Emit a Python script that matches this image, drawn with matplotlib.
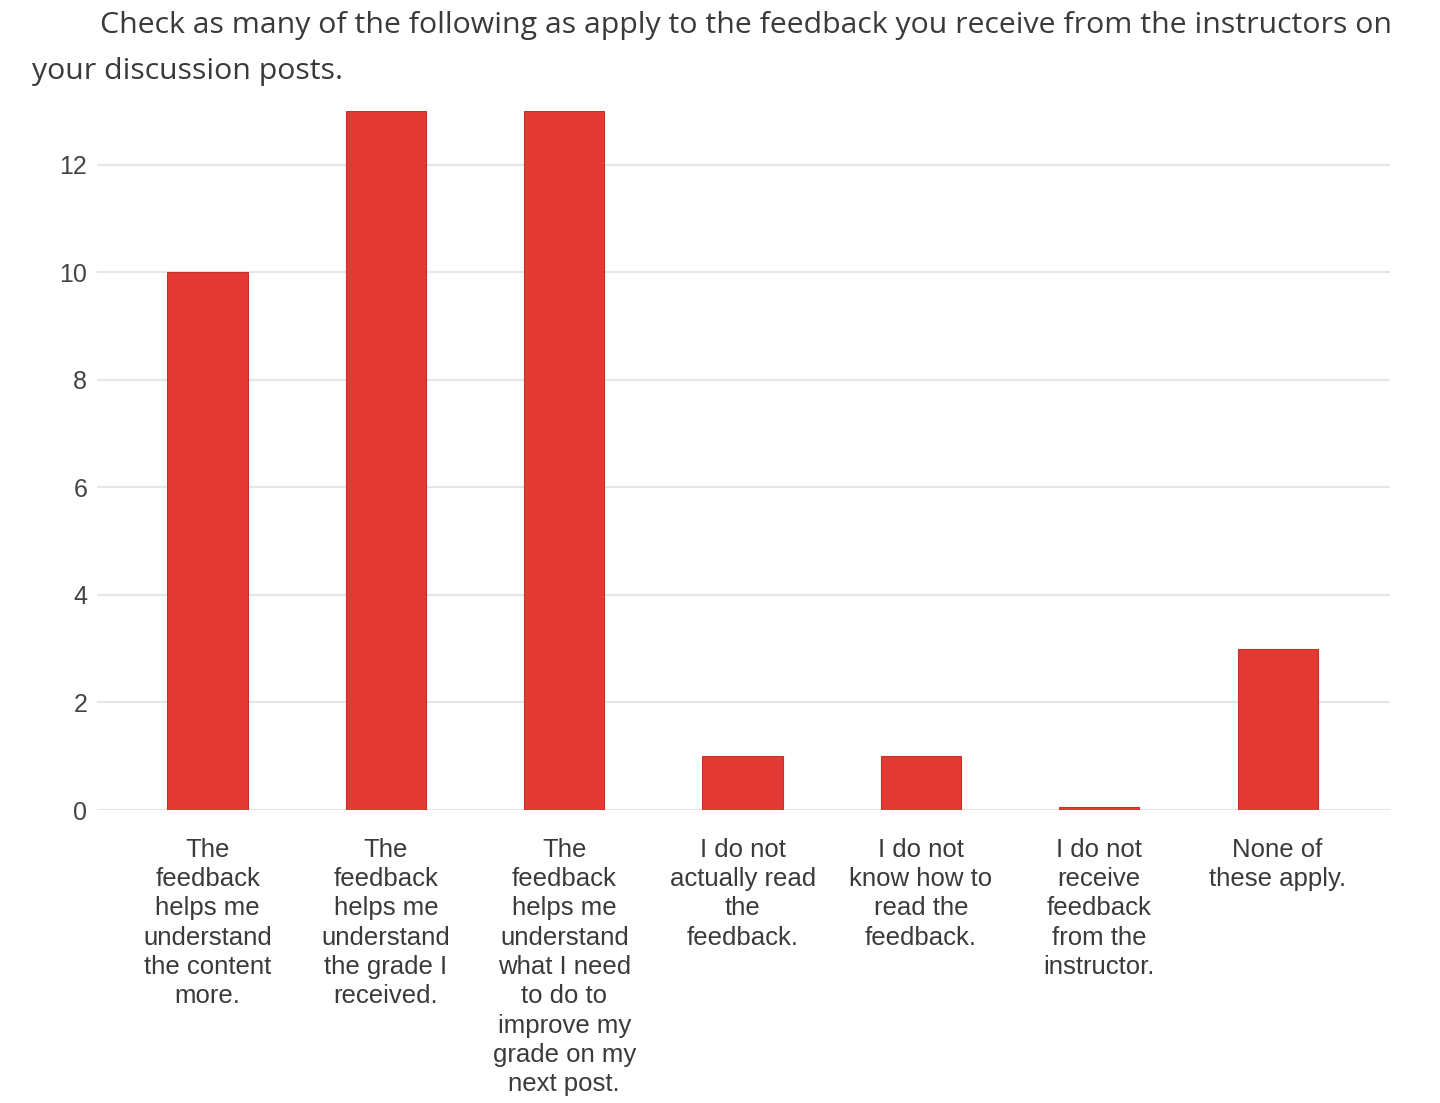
import numpy as np
import matplotlib.pyplot as plt

# survey answers and counts
categories = [
    "The\nfeedback\nhelps me\nunderstand\nthe content\nmore.",
    "The\nfeedback\nhelps me\nunderstand\nthe grade I\nreceived.",
    "The\nfeedback\nhelps me\nunderstand\nwhat I need\nto do to\nimprove my\ngrade on my\nnext post.",
    "I do not\nactually read\nthe\nfeedback.",
    "I do not\nknow how to\nread the\nfeedback.",
    "I do not\nreceive\nfeedback\nfrom the\ninstructor.",
    "None of\nthese apply.",
]
counts = [10, 13, 13, 1, 1, 0, 3]
yticks = [0, 2, 4, 6, 8, 10, 12]

title_line1 = "Check as many of the following as apply to the feedback you receive from the instructors on"
title_line2 = "your discussion posts."

fig = plt.figure(figsize=(14.4, 11.03), dpi=100)
ax = fig.add_axes([97 / 1440, 1 - 810 / 1103, (1390 - 97) / 1440, (810 - 111) / 1103])

x = np.arange(len(categories))
# zero-count answers still get a thin sliver, as in the survey tool
heights = np.maximum(np.array(counts, dtype=float), 0.06)
ax.bar(x, heights, width=0.45, color="#e53935", edgecolor="#c9302c", linewidth=0.8, zorder=3)

ax.set_xlim(-0.62, 6.63)
ax.set_ylim(0, 13)
ax.set_yticks(yticks)
ax.yaxis.grid(True, color="#e6e6e6", linewidth=1.5, zorder=0)
ax.set_axisbelow(True)
for s in ax.spines.values():
    s.set_visible(False)
ax.tick_params(axis="both", length=0)
ax.tick_params(axis="y", pad=7, labelsize=18, labelcolor="#444444")
ax.set_yticklabels([str(t) for t in yticks], family="Liberation Sans")

ax.set_xticks(x)
ax.set_xticklabels(categories, family="Liberation Sans", fontsize=18.5, color="#3a3a3a",
                   linespacing=1.28, va="top")
ax.tick_params(axis="x", pad=20)

fig.text(100 / 1440, 1 - 26 / 1103, title_line1, family="Open Sans", fontsize=21.8,
         color="#3a3a3a", va="center", ha="left")
fig.text(32 / 1440, 1 - 72 / 1103, title_line2, family="Open Sans", fontsize=21.8,
         color="#3a3a3a", va="center", ha="left")

fig.savefig("out.png", dpi=100, facecolor="white")
